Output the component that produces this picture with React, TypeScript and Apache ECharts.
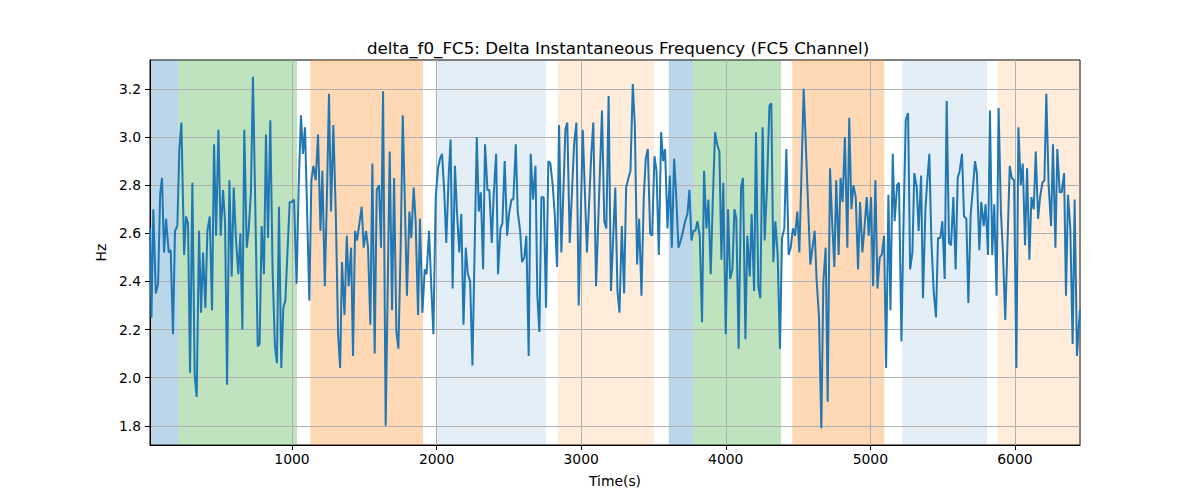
import React, { useEffect, useRef } from "react";
import * as echarts from "echarts";

// sample times (s) and delta f0 values (Hz)
const timeS = [
  18, 28, 41, 58, 74, 88, 101, 115, 129, 138, 148, 161, 177, 191, 207, 221, 235, 254, 267, 281, 295, 311, 327, 341, 357, 371, 385, 401, 415, 431, 447, 461, 475, 491, 507, 523, 537, 551,
  567, 583, 597, 613, 629, 643, 657, 670, 687, 700, 716, 730, 746, 763, 776, 790, 806, 820, 834, 850, 866, 882, 896, 910, 926, 940, 954, 968, 984, 998, 1014, 1032, 1046, 1062, 1076, 1090,
  1120, 1134, 1148, 1164, 1180, 1197, 1210, 1227, 1243, 1256, 1270, 1286, 1303, 1319, 1333, 1346, 1363, 1379, 1392, 1409, 1422, 1436, 1450, 1466, 1482, 1496, 1512, 1526, 1542, 1556, 1572, 1586, 1602, 1616, 1630,
  1648, 1676, 1692, 1706, 1722, 1736, 1752, 1766, 1782, 1795, 1812, 1825, 1842, 1855, 1872, 1885, 1902, 1918, 1931, 1948, 1964, 1978, 1994, 2010, 2024, 2038, 2054, 2067, 2084, 2097, 2111, 2127, 2141, 2157,
  2171, 2186, 2202, 2216, 2232, 2248, 2278, 2292, 2306, 2322, 2335, 2352, 2365, 2382, 2395, 2412, 2425, 2442, 2455, 2471, 2488, 2501, 2518, 2531, 2548, 2561, 2578, 2591, 2607, 2621, 2637, 2651, 2667, 2684, 2697, 2711,
  2725, 2741, 2757, 2773, 2787, 2803, 2817, 2833, 2847, 2863, 2891, 2904, 2921, 2951, 2967, 2983, 3011, 3040, 3070, 3084, 3103, 3144, 3160, 3174, 3190, 3206, 3236,
  3251, 3265, 3281, 3297, 3311, 3327, 3341, 3357, 3371, 3387, 3401, 3417, 3433, 3447, 3461, 3477, 3491, 3507, 3521, 3537, 3553, 3567, 3580, 3597, 3613, 3627, 3643, 3657, 3673, 3689, 3705, 3719, 3735, 3749, 3763, 3776,
  3790, 3804, 3820, 3836, 3850, 3866, 3880, 3896, 3910, 3926, 3940, 3956, 3970, 3983, 4000, 4016, 4030, 4046, 4060, 4073, 4089, 4106, 4119, 4136, 4149, 4166, 4179, 4196, 4209, 4225, 4239, 4255, 4269, 4285, 4302, 4315, 4329,
  4343, 4359, 4375, 4389, 4405, 4419, 4435, 4449, 4465, 4479, 4495, 4509, 4525, 4539, 4585, 4615, 4628, 4645, 4661, 4675, 4691, 4705, 4721, 4735, 4751, 4764, 4781, 4794, 4808, 4824, 4841, 4854,
  4869, 4883, 4899, 4915, 4929, 4945, 4959, 4975, 4989, 5005, 5019, 5035, 5049, 5065, 5079, 5095, 5109, 5125, 5139, 5155, 5168, 5185, 5198, 5215, 5228, 5245, 5261, 5275, 5291, 5304, 5321, 5334, 5351, 5364, 5381, 5394, 5408,
  5422, 5438, 5454, 5468, 5484, 5498, 5514, 5528, 5544, 5558, 5574, 5590, 5604, 5618, 5634, 5648, 5664, 5678, 5694, 5710, 5724, 5737, 5754, 5767, 5784, 5797, 5814, 5827, 5843, 5857, 5873, 5887, 5903, 5917, 5933,
  5964, 5978, 5994, 6010, 6024, 6040, 6054, 6070, 6084, 6100, 6114, 6130, 6144, 6160, 6174, 6190, 6204, 6217, 6233, 6250, 6263, 6280, 6293, 6310, 6323, 6340, 6353, 6367, 6383, 6399, 6413, 6429, 6449,
];

const deltaHz = [
  2.62, 2.25, 2.70, 2.35, 2.39, 2.76, 2.83, 2.52, 2.66, 2.59, 2.52, 2.53, 2.18, 2.61, 2.63, 2.95, 3.06, 2.51, 2.67, 2.64, 2.02, 2.81, 2.01, 1.92, 2.61, 2.27, 2.52, 2.29, 2.61, 2.67, 2.28, 2.97, 2.59, 3.03, 2.59, 2.78, 2.65, 1.97,
  2.82, 2.42, 2.79, 2.57, 2.43, 2.60, 2.20, 3.03, 2.54, 2.61, 2.77, 3.25, 2.72, 2.13, 2.14, 2.63, 2.43, 3.01, 2.58, 3.07, 2.44, 2.13, 2.06, 2.71, 2.04, 2.29, 2.32, 2.51, 2.73, 2.73, 2.74, 2.39, 2.79, 3.09, 2.93, 3.04,
  2.32, 2.82, 2.88, 2.82, 3.01, 2.61, 2.86, 2.38, 2.79, 3.18, 2.69, 3.05, 2.68, 2.18, 2.04, 2.48, 2.26, 2.59, 2.38, 2.54, 2.09, 2.61, 2.57, 2.64, 2.71, 2.54, 2.61, 2.54, 2.22, 2.89, 2.10, 2.78, 2.80, 2.54, 3.19,
  1.80, 2.94, 2.28, 2.83, 2.19, 2.12, 2.55, 3.09, 2.69, 2.34, 2.69, 2.58, 2.79, 2.65, 2.26, 2.66, 2.27, 2.45, 2.43, 2.61, 2.37, 2.18, 2.75, 2.87, 2.91, 2.93, 2.76, 2.56, 2.84, 2.99, 2.37, 2.88, 2.69, 2.52,
  2.68, 2.22, 2.54, 2.43, 2.40, 2.05, 3.00, 2.69, 2.77, 2.45, 2.97, 2.78, 2.78, 2.56, 2.76, 2.93, 2.43, 2.62, 2.64, 2.90, 2.59, 2.68, 2.74, 2.74, 2.97, 2.69, 2.61, 2.48, 2.50, 2.59, 2.09, 2.93, 2.74, 2.88, 2.34, 2.19,
  2.75, 2.75, 2.29, 2.90, 2.89, 2.80, 2.68, 2.46, 3.05, 2.52, 3.03, 3.06, 2.56, 2.97, 3.06, 2.30, 3.03, 2.52, 2.93, 3.06, 2.38, 3.11, 2.65, 2.62, 3.17, 2.36, 2.79,
  2.36, 2.27, 2.63, 2.35, 2.79, 2.83, 2.86, 3.22, 3.05, 2.47, 2.66, 2.34, 2.75, 2.91, 2.95, 2.60, 2.59, 2.92, 2.86, 2.51, 3.02, 2.90, 2.95, 2.62, 2.84, 2.54, 2.91, 2.76, 2.54, 2.57, 2.61, 2.65, 2.68, 2.78, 2.57, 2.61,
  2.61, 2.65, 2.59, 2.23, 2.86, 2.62, 2.74, 2.43, 2.73, 3.02, 2.97, 2.94, 2.49, 2.81, 2.18, 2.70, 2.41, 2.45, 2.70, 2.66, 2.12, 2.79, 2.83, 2.16, 2.59, 2.42, 2.68, 2.36, 3.02, 2.38, 2.33, 3.04, 2.57, 2.79, 3.13, 3.14, 2.48,
  2.65, 2.51, 2.12, 2.58, 2.62, 2.95, 2.51, 2.54, 2.62, 2.59, 2.69, 2.52, 2.88, 3.20, 2.47, 2.61, 2.41, 2.25, 1.79, 2.40, 2.54, 1.90, 2.87, 2.66, 2.46, 2.82, 2.51, 2.83, 2.73, 3.00, 2.54, 3.08,
  2.70, 2.80, 2.75, 2.45, 2.73, 2.52, 2.62, 2.75, 2.59, 2.75, 2.38, 2.82, 2.37, 2.50, 2.51, 2.59, 2.04, 2.76, 2.28, 2.93, 2.65, 2.80, 2.81, 2.15, 2.60, 3.07, 3.10, 2.45, 2.52, 2.85, 2.79, 2.61, 2.84, 2.33, 2.70, 2.82, 2.93,
  2.57, 2.36, 2.25, 2.58, 2.58, 2.65, 2.41, 3.15, 2.56, 2.55, 2.75, 2.45, 2.83, 2.86, 2.93, 2.67, 2.66, 2.31, 2.68, 2.79, 2.90, 2.85, 2.53, 2.73, 2.63, 2.72, 2.51, 3.11, 2.51, 2.72, 2.34, 3.12, 2.69, 2.52, 2.24,
  2.88, 2.83, 2.82, 2.04, 3.04, 2.80, 2.89, 2.55, 2.87, 2.49, 2.75, 2.70, 2.94, 2.66, 2.75, 2.81, 2.82, 3.18, 2.80, 2.63, 2.97, 2.54, 2.95, 2.77, 2.77, 2.85, 2.34, 2.76, 2.62, 2.14, 2.74, 2.09, 2.28,
];

// shaded segments
const spanStart = [18, 214, 1127, 1995, 2838, 3606, 3774, 4460, 5221, 5878];
const spanEnd = [214, 1035, 1906, 2755, 3504, 3774, 4382, 5097, 5807, 6450];
const spanKind = ["blue", "green", "orange", "paleBlue", "paleOrange", "blue", "green", "orange", "paleBlue", "paleOrange"];

const xTicks = [1000, 2000, 3000, 4000, 5000, 6000];
const yTicks = [1.8, 2.0, 2.2, 2.4, 2.6, 2.8, 3.0, 3.2];

const X_MIN = 18;
const X_MAX = 6450;
const Y_MIN = 1.72;
const Y_MAX = 3.32;

const spanColors: Record<string, string> = {
  blue: "rgba(31,119,180,0.3)",
  green: "rgba(44,160,44,0.3)",
  orange: "rgba(255,127,14,0.3)",
  paleBlue: "rgba(31,119,180,0.12)",
  paleOrange: "rgba(255,127,14,0.15)",
};

const FONT = "DejaVu Sans";

export default function App() {
  const chartRef = useRef<HTMLDivElement>(null);

  useEffect(() => {
    document.body.style.margin = "0";
    if (!chartRef.current) return;
    const chart = echarts.init(chartRef.current, undefined, { renderer: "svg" });

    const n = Math.min(timeS.length, deltaHz.length);
    const points = [];
    for (let i = 0; i < n; i++) points.push([timeS[i], deltaHz[i]]);

    const areas = spanStart.map((s, i) => [
      { xAxis: s, itemStyle: { color: spanColors[spanKind[i]] } },
      { xAxis: spanEnd[i] },
    ]);

    const labelStyle = { fontFamily: FONT, fontSize: 13.9, color: "#000" };

    const option = {
      animation: false,
      textStyle: { fontFamily: FONT },
      title: {
        text: "delta_f0_FC5: Delta Instantaneous Frequency (FC5 Channel)",
        left: 362,
        top: 34,
        textStyle: { fontFamily: FONT, fontSize: 16.7, fontWeight: "normal", color: "#000" },
      },
      grid: {
        left: 150,
        right: 120,
        top: 60,
        bottom: 55,
        show: true,
        borderColor: "#000",
        borderWidth: 1,
        backgroundColor: "transparent",
      },
      xAxis: {
        type: "value",
        z: 3,
        min: X_MIN,
        max: X_MAX,
        splitNumber: 6,
        name: "Time(s)",
        nameLocation: "middle",
        nameGap: 29,
        nameTextStyle: labelStyle,
        axisLine: { show: true, onZero: false, lineStyle: { color: "#000", width: 1 } },
        axisTick: { show: true, length: 5, customValues: xTicks, lineStyle: { color: "#000", width: 1 } },
        axisLabel: {
          customValues: xTicks,
          margin: 7,
          ...labelStyle,
          formatter: (v: number) => (Math.abs(v % 1000) < 1e-6 ? String(v) : ""),
        },
        splitLine: { show: true, lineStyle: { color: "#b0b0b0", width: 1 } },
      },
      yAxis: {
        type: "value",
        z: 3,
        min: Y_MIN,
        max: Y_MAX,
        splitNumber: 8,
        name: "Hz",
        nameLocation: "middle",
        nameGap: 38,
        nameTextStyle: labelStyle,
        axisLine: { show: true, onZero: false, lineStyle: { color: "#000", width: 1 } },
        axisTick: { show: true, length: 5, customValues: yTicks, lineStyle: { color: "#000", width: 1 } },
        axisLabel: {
          customValues: yTicks,
          margin: 9,
          ...labelStyle,
          formatter: (v: number) =>
            Math.abs(v * 5 - Math.round(v * 5)) < 1e-6 ? v.toFixed(1) : "",
        },
        splitLine: { show: true, lineStyle: { color: "#b0b0b0", width: 1 } },
      },
      series: [
        {
          // shading only, kept under the grid lines
          type: "line",
          z: 1,
          silent: true,
          data: [],
          markArea: { silent: true, data: areas },
        },
        {
          type: "line",
          z: 4,
          data: points,
          showSymbol: false,
          symbol: "none",
          lineStyle: { color: "#1f77b4", width: 2 },
          itemStyle: { color: "#1f77b4" },
        },
      ],
    };

    chart.setOption(option);
    return () => chart.dispose();
  }, []);

  return <div ref={chartRef} style={{ width: 1200, height: 500 }} />;
}
